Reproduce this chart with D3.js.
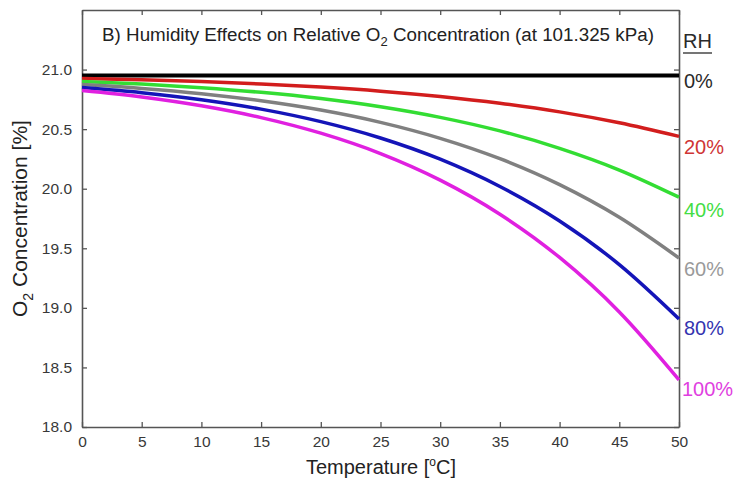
<!DOCTYPE html>
<html><head><meta charset="utf-8">
<script src="https://cdn.jsdelivr.net/npm/d3@7/dist/d3.min.js"></script>
<style>body{margin:0;background:#fff}svg{display:block;font-family:"Liberation Sans",Arial,sans-serif}</style>
</head><body><svg id="c" width="734" height="483"></svg>
<script>
const temperatures = [0,5,10,15,20,25,30,35,40,45,50];
const rh0   = [20.95,20.95,20.95,20.95,20.95,20.95,20.95,20.95,20.95,20.95,20.95];
const rh20  = [20.925,20.914,20.899,20.879,20.853,20.819,20.774,20.717,20.645,20.553,20.439];
const rh40  = [20.899,20.878,20.848,20.809,20.757,20.688,20.599,20.485,20.339,20.157,19.929];
const rh60  = [20.874,20.842,20.798,20.738,20.660,20.557,20.423,20.252,20.034,19.760,19.418];
const rh80  = [20.849,20.806,20.747,20.668,20.563,20.426,20.248,20.019,19.729,19.363,18.907];
const rh100 = [20.824,20.770,20.696,20.597,20.466,20.295,20.072,19.786,19.423,18.966,18.396];
const seriesNames = ["0%","20%","40%","60%","80%","100%"];
const seriesValues = [rh0,rh20,rh40,rh60,rh80,rh100];
const xTicks = [0,5,10,15,20,25,30,35,40,45,50];
const yTicks = [18.0,18.5,19.0,19.5,20.0,20.5,21.0];

// styles / layout
const lineColors = ["#000000","#d21d1d","#33dd33","#808080","#1414b8","#e020e0"];
const labelColors = ["#2a2a2a","#cf3535","#44dd44","#9a9a9a","#3434b0","#e040e0"];
const labelDy = [12,18,20,18,16,16];

const svg = d3.select("#c");
const L=82, R=679, T=10, B=427;
const x = d3.scaleLinear().domain([0,50]).range([L,R]);
const y = d3.scaleLinear().domain([18,21.5]).range([B,T]);
const axisColor="#555";

const gB = svg.append("g").attr("transform",`translate(0,${B})`)
  .call(d3.axisBottom(x).tickValues(xTicks).tickSizeInner(-5).tickSizeOuter(0).tickPadding(9).tickFormat(d3.format("d")));
const gT = svg.append("g").attr("transform",`translate(0,${T})`)
  .call(d3.axisTop(x).tickValues(xTicks).tickSizeInner(-5).tickSizeOuter(0).tickFormat(""));
const gL = svg.append("g").attr("transform",`translate(${L},0)`)
  .call(d3.axisLeft(y).tickValues(yTicks).tickSizeInner(-5).tickSizeOuter(0).tickPadding(10).tickFormat(d3.format(".1f")));
const gR = svg.append("g").attr("transform",`translate(${R},0)`)
  .call(d3.axisRight(y).tickValues(yTicks).tickSizeInner(-5).tickSizeOuter(0).tickFormat(""));
[gB,gT,gL,gR].forEach(g=>{
  g.selectAll(".domain").attr("stroke",axisColor).attr("stroke-width",1.6);
  g.selectAll(".tick line").attr("stroke",axisColor).attr("stroke-width",1.3);
  g.selectAll(".tick text").attr("fill","#383838").attr("font-size",15.5);
});

const line = d3.line().x((d,i)=>x(temperatures[i])).y(d=>y(d)).curve(d3.curveMonotoneX);
seriesValues.forEach((vals,k)=>{
  svg.append("path").attr("d",line(vals)).attr("fill","none")
    .attr("stroke",lineColors[k]).attr("stroke-width",k===0?4:3.5);
});

seriesValues.forEach((vals,k)=>{
  svg.append("text").attr("x",k===5?R+3:R+5).attr("y",y(vals[vals.length-1])+labelDy[k])
    .attr("fill",labelColors[k]).attr("font-size",20).text(seriesNames[k]);
});
svg.append("text").attr("x",R+4).attr("y",48).attr("fill","#2a2a2a").attr("font-size",20).text("RH");
svg.append("line").attr("x1",R+4).attr("x2",R+33).attr("y1",53).attr("y2",53).attr("stroke","#2a2a2a").attr("stroke-width",1.3);

const title = svg.append("text").attr("x",378).attr("y",41).attr("text-anchor","middle").attr("fill","#222").attr("font-size",18.8);
title.append("tspan").text("B) Humidity Effects on Relative O");
title.append("tspan").attr("font-size",13).attr("dy",5).text("2");
title.append("tspan").attr("dy",-5).text(" Concentration (at 101.325 kPa)");

const xl = svg.append("text").attr("x",381).attr("y",474).attr("text-anchor","middle").attr("fill","#222").attr("font-size",20);
xl.append("tspan").text("Temperature [");
xl.append("tspan").attr("font-size",12).attr("dy",-8).text("o");
xl.append("tspan").attr("dy",8).text("C]");

const yl = svg.append("text").attr("transform",`translate(27,317) rotate(-90)`).attr("text-anchor","start").attr("fill","#222").attr("font-size",21);
yl.append("tspan").text("O");
yl.append("tspan").attr("font-size",14).attr("dy",6).text("2");
yl.append("tspan").attr("dy",-6).text(" Concentration [%]");
</script></body></html>
